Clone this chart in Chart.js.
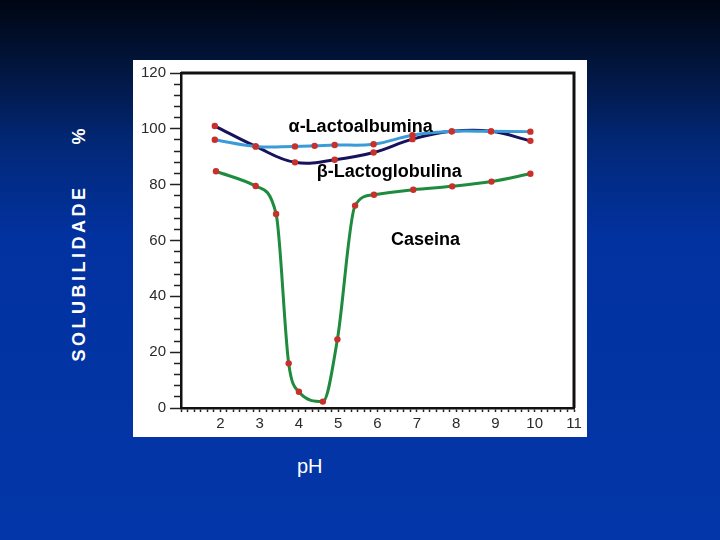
<!DOCTYPE html>
<html>
<head>
<meta charset="utf-8">
<script src="https://cdn.jsdelivr.net/npm/chart.js@4.4.1/dist/chart.umd.min.js"></script>
<style>
  html, body { margin: 0; padding: 0; }
  body {
    width: 720px; height: 540px; overflow: hidden; position: relative;
    background: linear-gradient(to bottom, #000612 0%, #021640 13%, #022878 27%, #0232a0 44%, #0336a8 100%);
    font-family: "Liberation Sans", Arial, sans-serif;
  }
  #panel { position: absolute; left: 133px; top: 60px; width: 454px; height: 377px; background: #fff; }
  #ytitle {
    position: absolute; left: 79px; top: 245px; color: #fff; font-weight: bold; font-size: 18px;
    line-height: 1; white-space: nowrap; transform: translate(-50%, -50%) rotate(-90deg);
  }
  #ytitle .t { letter-spacing: 3.5px; }
  #ytitle .p { margin-left: 40px; }
  #xtitle { position: absolute; left: 297px; top: 456px; color: #fff; font-size: 20px; line-height: 1; }
</style>
</head>
<body>
<div id="panel"><canvas id="grafico" width="454" height="377"></canvas></div>
<div id="ytitle"><span class="t">SOLUBILIDADE</span><span class="p">%</span></div>
<div id="xtitle">pH</div>
<script>
// 🟢 valores (pH x solubilidade %)
const phAlfa = [1.86, 2.9, 3.9, 4.4, 4.91, 5.9, 6.89, 7.89, 8.89, 9.89];
const solAlfa = [96.1, 93.7, 93.7, 93.9, 94.2, 94.5, 97.7, 99.1, 99.1, 99.0];

const phBeta = [1.86, 2.9, 3.9, 4.91, 5.9, 6.89, 7.89, 8.89, 9.89];
const solBeta = [101.0, 93.7, 88.0, 88.9, 91.5, 96.3, 99.1, 99.1, 95.7];

const phCaseina = [1.89, 2.9, 3.42, 3.74, 4.0, 4.61, 4.98, 5.43, 5.91, 6.91, 7.9, 8.9, 9.89];
const solCaseina = [84.8, 79.5, 69.5, 16.0, 5.8, 2.3, 24.6, 72.5, 76.4, 78.2, 79.4, 81.1, 83.9];

const yTicks = [0, 20, 40, 60, 80, 100, 120];
const xTicks = [2, 3, 4, 5, 6, 7, 8, 9, 10, 11];

// 🟢 nomes das curvas, escritos dentro do gráfico
const rotulos = [
    { text: "α-Lactoalbumina", x: 5.57, y: 100.7 },
    { text: "β-Lactoglobulina", x: 6.30, y: 84.4 },
    { text: "Caseina", x: 7.22, y: 60 }
];

function pontos(xs, ys) {
    return xs.map((x, i) => ({ x: x, y: ys[i] }));
}

function serie(label, xs, ys, color, suave) {
    return {
        label: label,
        data: pontos(xs, ys),
        borderColor: color,
        borderWidth: 3,
        tension: 0.4,
        cubicInterpolationMode: suave ? 'default' : 'monotone',
        pointRadius: 3.2,
        pointBackgroundColor: '#c8302c',
        pointBorderWidth: 0
    };
}

// 🟢 moldura e nomes das curvas
const extras = {
    id: 'extras',
    afterDatasetsDraw(chart) {
        const { ctx, chartArea, scales } = chart;
        ctx.save();
        ctx.strokeStyle = '#111';
        ctx.lineWidth = 3;
        ctx.beginPath();
        ctx.moveTo(chartArea.left, chartArea.top);
        ctx.lineTo(chartArea.right, chartArea.top);
        ctx.lineTo(chartArea.right, chartArea.bottom);
        ctx.stroke();

        ctx.fillStyle = '#000';
        ctx.font = 'bold 18px "Liberation Sans", Arial, sans-serif';
        ctx.textAlign = 'center';
        ctx.textBaseline = 'middle';
        rotulos.forEach(r => {
            ctx.fillText(r.text, scales.x.getPixelForValue(r.x), scales.y.getPixelForValue(r.y));
        });
        ctx.restore();
    }
};

const eInteiro = v => Math.abs(v - Math.round(v)) < 1e-6;

new Chart(document.getElementById('grafico'), {
    type: 'line',
    data: {
        datasets: [
            serie('α-Lactoalbumina', phAlfa, solAlfa, '#3a9bd9', true),
            serie('β-Lactoglobulina', phBeta, solBeta, '#16125c', true),
            serie('Caseina', phCaseina, solCaseina, '#1f8b3e', false)
        ]
    },
    options: {
        responsive: false,
        animation: false,
        layout: { padding: { left: 0, right: 13, top: 12, bottom: 0 } },
        plugins: { legend: { display: false }, tooltip: { enabled: false } },
        scales: {
            x: {
                type: 'linear',
                min: 1,
                max: 11,
                afterFit(scale) { scale.height = 29; },
                border: { color: '#111', width: 2.5 },
                grid: { drawOnChartArea: false, tickLength: 4, tickColor: '#222', tickWidth: 1.5 },
                ticks: {
                    stepSize: 1 / 6,
                    autoSkip: false,
                    maxRotation: 0,
                    minRotation: 0,
                    padding: 3,
                    color: '#2a2a2a',
                    font: { family: '"Liberation Sans", Arial, sans-serif', size: 15 },
                    callback: v => (eInteiro(v) && xTicks.includes(Math.round(v))) ? String(Math.round(v)) : ''
                }
            },
            y: {
                min: 0,
                max: 120,
                afterFit(scale) { scale.width = 48; },
                border: { color: '#111', width: 2.5 },
                grid: {
                    drawOnChartArea: false,
                    tickLength: 11,
                    tickColor: '#222',
                    tickWidth: 1.5,
                    tickBorderDash: c => (c.tick && yTicks.includes(c.tick.value)) ? [] : [0, 4, 20, 0]
                },
                ticks: {
                    stepSize: 4,
                    autoSkip: false,
                    padding: 4,
                    color: '#2a2a2a',
                    font: { family: '"Liberation Sans", Arial, sans-serif', size: 15 },
                    callback: v => yTicks.includes(v) ? String(v) : ''
                }
            }
        }
    },
    plugins: [extras]
});
</script>
</body>
</html>
